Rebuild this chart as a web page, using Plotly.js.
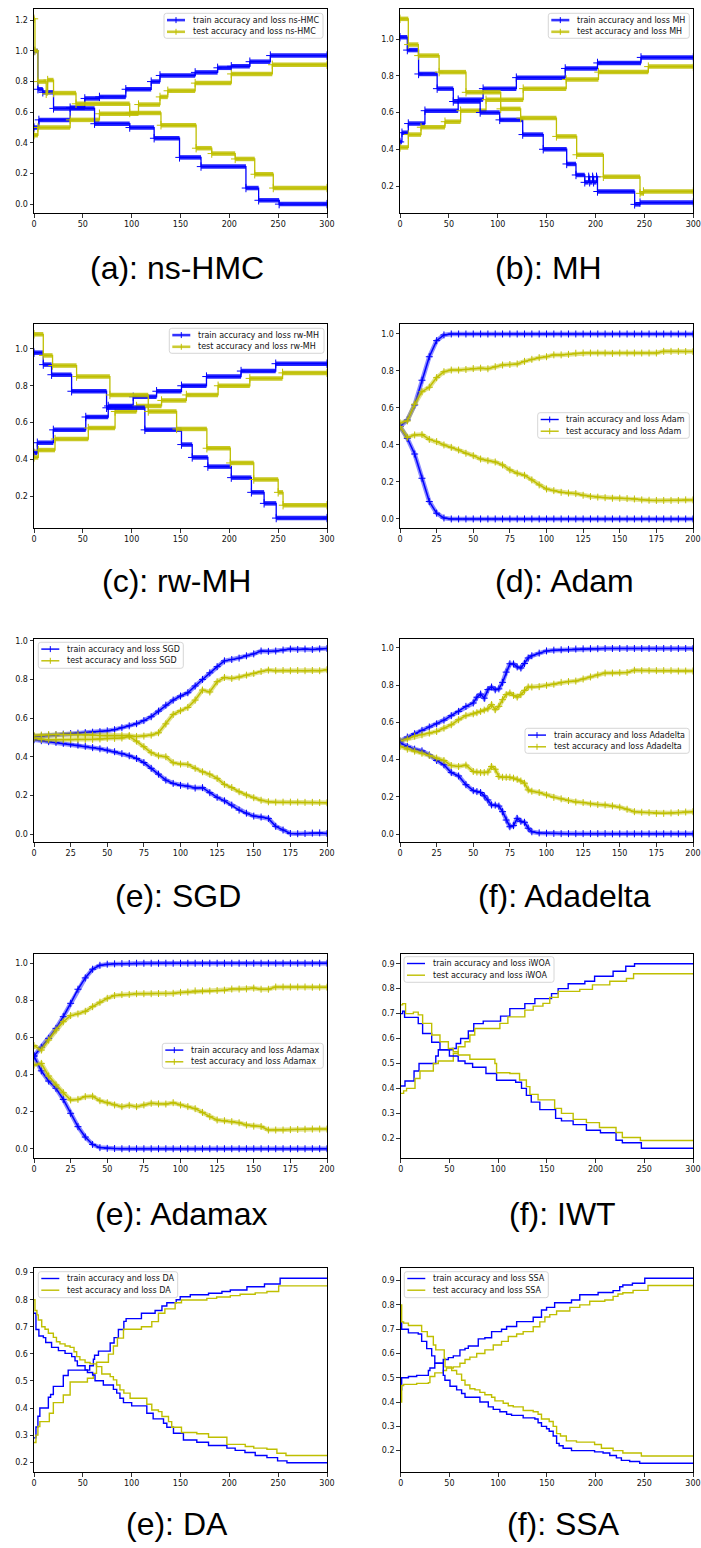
<!DOCTYPE html>
<html><head><meta charset="utf-8">
<script src="https://cdn.plot.ly/plotly-3.0.1.min.js"></script>
<style>html,body{margin:0;padding:0;background:#fff}</style>
</head><body><div id="chart" style="width:701px;height:1548px"></div>
<script>
// ---------- (a) ns-HMC (step levels: x = start epoch of each level) ----------
const hmcTrainAccX = [0, 5, 37, 52, 67, 94, 120, 129, 165, 188, 202, 221, 242, 300];
const hmcTrainAcc  = [0.50, 0.55, 0.63, 0.69, 0.70, 0.75, 0.80, 0.84, 0.86, 0.89, 0.90, 0.93, 0.97, 0.97];
const hmcTrainLossX = [0, 4, 9, 20, 62, 98, 123, 149, 171, 217, 230, 251, 300];
const hmcTrainLoss  = [1.0, 0.75, 0.73, 0.625, 0.525, 0.50, 0.43, 0.305, 0.245, 0.105, 0.025, 0.0, 0.0];
const hmcTestAccX = [0, 4, 37, 67, 107, 129, 137, 165, 202, 244, 300];
const hmcTestAcc  = [0.45, 0.50, 0.55, 0.59, 0.65, 0.70, 0.74, 0.79, 0.85, 0.91, 0.91];
const hmcTestLossX = [0, 1, 4, 12.5, 14, 20, 43, 98, 130, 166, 182, 206, 226, 245, 300];
const hmcTestLoss  = [1.21, 1.0, 0.80, 0.72, 0.81, 0.725, 0.655, 0.595, 0.515, 0.365, 0.33, 0.295, 0.195, 0.105, 0.105];

// ---------- (b) MH ----------
const mhTrainAccX = [0, 2, 8.5, 25.5, 59.5, 85, 119, 169, 202, 246.5, 300];
const mhTrainAcc  = [0.44, 0.49, 0.54, 0.61, 0.67, 0.73, 0.79, 0.84, 0.87, 0.90, 0.90];
const mhTrainLossX = [0, 7.5, 19, 38, 54.5, 82, 102, 125.5, 146.5, 170.5, 180, 189, 193, 194, 197, 198, 201, 202, 240, 245.5, 300];
const mhTrainLoss  = [1.01, 0.94, 0.81, 0.73, 0.66, 0.60, 0.56, 0.48, 0.40, 0.32, 0.26, 0.22, 0.25, 0.22, 0.25, 0.22, 0.25, 0.17, 0.10, 0.11, 0.11];
const mhTestAccX = [0, 8.5, 21.5, 46, 62, 88, 126, 170, 203, 254, 300];
const mhTestAcc  = [0.41, 0.48, 0.52, 0.55, 0.61, 0.67, 0.73, 0.78, 0.82, 0.85, 0.85];
const mhTestLossX = [0, 8.5, 18.8, 40, 67.5, 103, 123.4, 160, 180.7, 208, 245.5, 249, 300];
const mhTestLoss  = [1.11, 0.97, 0.91, 0.82, 0.71, 0.62, 0.57, 0.47, 0.37, 0.25, 0.16, 0.17, 0.17];

// ---------- (c) rw-MH ----------
const rwTrainAccX = [0, 3.4, 19.8, 53, 76, 101.6, 125.5, 151, 176.6, 212, 247.5, 300];
const rwTrainAcc  = [0.435, 0.49, 0.56, 0.63, 0.69, 0.74, 0.77, 0.80, 0.85, 0.88, 0.92, 0.92];
const rwTrainLossX = [0, 9.5, 18, 38.5, 74.3, 113.5, 151, 162, 178, 202, 222.6, 235.6, 248, 300];
const rwTrainLoss  = [0.98, 0.915, 0.86, 0.77, 0.68, 0.56, 0.48, 0.41, 0.36, 0.30, 0.22, 0.16, 0.08, 0.08];
const rwTestAccX = [0, 4.4, 21.5, 55.6, 83, 105, 130.6, 156, 188.5, 221, 254.5, 300];
const rwTestAcc  = [0.41, 0.45, 0.51, 0.57, 0.66, 0.69, 0.72, 0.75, 0.80, 0.84, 0.87, 0.87];
const rwTestLossX = [0, 9.5, 19, 43.6, 77.7, 117, 146, 177, 201, 225, 250, 255, 300];
const rwTestLoss  = [1.08, 0.965, 0.91, 0.85, 0.75, 0.66, 0.565, 0.46, 0.38, 0.29, 0.22, 0.15, 0.15];

// ---------- (d) Adam (sampled epochs) ----------
const adamEpochs = [0,5,10,15,20,25,30,35,40,45,50,55,60,65,70,75,80,85,90,95,100,105,110,115,120,125,130,135,140,145,150,155,160,165,170,175,180,185,190,195,200];
const adamTrainAcc = [0.50,0.535,0.616,0.75,0.877,0.964,0.995,1.0,1.0,1.0, 1.0,1.0,1.0,1.0,1.0,1.0,1.0,1.0,1.0,1.0, 1.0,1.0,1.0,1.0,1.0,1.0,1.0,1.0,1.0,1.0, 1.0,1.0,1.0,1.0,1.0,1.0,1.0,1.0,1.0,1.0, 1.0];
const adamTrainLoss = [0.50,0.436,0.351,0.22,0.094,0.031,0.005,0.0,0.0,0.0, 0,0,0,0,0,0,0,0,0,0, 0,0,0,0,0,0,0,0,0,0, 0,0,0,0,0,0,0,0,0,0, 0];
const adamTestAcc = [0.52,0.53,0.62,0.688,0.712,0.764,0.796,0.805,0.805,0.808, 0.813,0.815,0.812,0.823,0.832,0.835,0.838,0.852,0.863,0.872, 0.877,0.887,0.887,0.89,0.896,0.897,0.897,0.897,0.897,0.895, 0.897,0.897,0.897,0.897,0.897,0.897,0.906,0.906,0.906,0.905, 0.905];
const adamTestLoss = [0.50,0.441,0.454,0.456,0.43,0.418,0.40,0.387,0.373,0.355, 0.342,0.324,0.315,0.308,0.292,0.265,0.247,0.236,0.211,0.184, 0.162,0.153,0.144,0.14,0.137,0.128,0.121,0.118,0.115,0.112, 0.112,0.11,0.108,0.103,0.101,0.10,0.10,0.10,0.10,0.103, 0.103];

// ---------- (e) SGD ----------
const sgdEpochs = [0,5,10,15,20,25,30,35,40,45,50,55,60,65,70,75,80,85,90,95,100,105,110,115,120,125,130,135,140,145,150,155,160,165,170,175,180,185,190,195,200];
const sgdTrainAcc = [0.505,0.507,0.51,0.513,0.517,0.52,0.522,0.525,0.527,0.53, 0.534,0.54,0.55,0.56,0.571,0.587,0.607,0.636,0.667,0.693, 0.714,0.731,0.766,0.80,0.834,0.866,0.896,0.903,0.91,0.922, 0.932,0.947,0.945,0.947,0.952,0.957,0.955,0.957,0.955,0.958, 0.96];
const sgdTrainLoss = [0.488,0.483,0.478,0.474,0.469,0.465,0.46,0.454,0.447,0.441, 0.434,0.426,0.416,0.405,0.391,0.37,0.34,0.31,0.279,0.262, 0.252,0.248,0.238,0.24,0.214,0.19,0.172,0.15,0.124,0.108, 0.093,0.088,0.081,0.04,0.021,0.003,0.002,0.003,0.005,0.006, 0.003];
const sgdTestAcc = [0.51,0.512,0.515,0.515,0.515,0.515,0.515,0.513,0.512,0.51, 0.51,0.51,0.51,0.51,0.505,0.507,0.512,0.524,0.57,0.619, 0.638,0.655,0.693,0.745,0.735,0.788,0.81,0.805,0.812,0.822, 0.831,0.841,0.848,0.845,0.846,0.845,0.846,0.845,0.846,0.845, 0.85];
const sgdTestLoss = [0.495,0.49,0.488,0.488,0.488,0.488,0.49,0.49,0.49,0.492, 0.495,0.495,0.497,0.505,0.481,0.452,0.421,0.405,0.40,0.369, 0.362,0.36,0.34,0.322,0.31,0.288,0.257,0.241,0.219,0.202, 0.188,0.175,0.167,0.165,0.165,0.165,0.165,0.164,0.164,0.163, 0.162];

// ---------- (f) Adadelta ----------
const adadeltaEpochs = [0,5,10,15,20,25,30,35,40,45,50, 52.5,55,57.5,60,62.5,65,67.5,70,72.5,75,77.5,80,82.5,85,87.5,90, 95,100,105,110,115,120,125,130,135,140,145,150,155,160,165,170,175,180,185,190,195,200];
const adadeltaTrainAcc = [0.50,0.521,0.539,0.557,0.575,0.592,0.612,0.636,0.659,0.686,0.704, 0.735,0.752,0.73,0.776,0.79,0.775,0.78,0.815,0.87,0.915,0.914,0.898,0.892,0.916,0.946,0.958, 0.972,0.984,0.988,0.99,0.992,0.994,0.995,0.996,0.996,0.997,0.997,0.997,0.997,0.997,0.997,0.997,0.997,0.997,0.997,0.997,0.997,0.997];
const adadeltaTrainLoss = [0.488,0.47,0.456,0.447,0.425,0.395,0.372,0.33,0.312,0.265,0.233, 0.228,0.223,0.205,0.183,0.156,0.155,0.15,0.12,0.075,0.039,0.045,0.084,0.068,0.063,0.031,0.012, 0.006,0.004,0.003,0.002,0.002,0.002,0.002,0.002,0.002,0.002,0.001,0.001,0.001,0.001,0.001,0.001,0.001,0.001,0.001,0.001,0.001,0.001];
const adadeltaTestAcc = [0.50,0.51,0.526,0.533,0.542,0.551,0.569,0.587,0.614,0.636,0.646, 0.652,0.659,0.666,0.673,0.695,0.668,0.686,0.722,0.749,0.758,0.745,0.736,0.749,0.772,0.79,0.79, 0.792,0.799,0.805,0.815,0.819,0.822,0.833,0.844,0.855,0.865,0.865,0.867,0.868,0.88,0.878,0.878,0.878,0.878,0.878,0.876,0.876,0.876];
const adadeltaTestLoss = [0.47,0.456,0.445,0.434,0.422,0.408,0.395,0.368,0.363,0.37,0.336, 0.333,0.33,0.33,0.333,0.363,0.348,0.309,0.305,0.305,0.305,0.30,0.294,0.285,0.273,0.237,0.23, 0.223,0.21,0.197,0.189,0.18,0.172,0.169,0.162,0.158,0.156,0.151,0.144,0.133,0.12,0.117,0.115,0.111,0.111,0.113,0.115,0.118,0.12];

// ---------- (e) Adamax ----------
const adamaxEpochs = [0,5,10,15,20,25,30,35,40,45,50,55,60,65,70,75,80,85,90,95,100,105,110,115,120,125,130,135,140,145,150,155,160,165,170,175,180,185,190,195,200];
const adamaxTrainAcc = [0.50,0.547,0.595,0.649,0.712,0.784,0.86,0.921,0.968,0.989, 0.995,0.997,0.998,0.999,1.0,1.0,1.0,1.0,1.0,1.0, 1.0,1.0,1.0,1.0,1.0,1.0,1.0,1.0,1.0,1.0, 1.0,1.0,1.0,1.0,1.0,1.0,1.0,1.0,1.0,1.0, 1.0];
const adamaxTrainLoss = [0.50,0.42,0.365,0.326,0.266,0.191,0.119,0.063,0.023,0.006, 0.002,0.001,0,0,0,0,0,0,0,0, 0,0,0,0,0,0,0,0,0,0, 0,0,0,0,0,0,0,0,0,0, 0];
const adamaxTestAcc = [0.556,0.532,0.586,0.64,0.685,0.718,0.727,0.741,0.766,0.79, 0.811,0.826,0.831,0.832,0.836,0.836,0.836,0.837,0.837,0.838, 0.843,0.845,0.851,0.851,0.851,0.853,0.855,0.861,0.861,0.862, 0.866,0.86,0.86,0.872,0.872,0.872,0.872,0.872,0.871,0.871, 0.871];
const adamaxTestLoss = [0.451,0.46,0.392,0.344,0.302,0.263,0.266,0.281,0.283,0.259, 0.248,0.236,0.227,0.234,0.227,0.236,0.245,0.242,0.241,0.248, 0.236,0.227,0.216,0.196,0.173,0.155,0.151,0.146,0.14,0.128, 0.122,0.12,0.101,0.101,0.101,0.103,0.104,0.105,0.106,0.106, 0.106];

// ---------- (f) IWT (iWOA) ----------
const iwtTrainAccX = [0, 4.4, 13.7, 18.8, 36, 38.6, 53, 57, 61.5, 69.4, 75, 84.7, 102.5, 112, 127.4, 137.7, 154.8, 161.6, 171.9, 189, 199, 218, 231, 240, 300];
const iwtTrainAcc  = [0.41, 0.43, 0.47, 0.50, 0.53, 0.555, 0.56, 0.58, 0.60, 0.63, 0.66, 0.67, 0.69, 0.72, 0.74, 0.76, 0.78, 0.80, 0.82, 0.83, 0.85, 0.87, 0.89, 0.90, 0.90];
const iwtTrainLossX = [0, 2, 4, 18, 22.5, 31.8, 40.3, 50, 59, 66, 73.8, 87.5, 98.4, 118, 124, 129, 134, 142.8, 159, 165, 177, 190.6, 205, 221, 227.5, 247, 300];
const iwtTrainLoss  = [0.70, 0.71, 0.685, 0.66, 0.62, 0.585, 0.555, 0.53, 0.51, 0.50, 0.485, 0.46, 0.433, 0.425, 0.40, 0.372, 0.345, 0.315, 0.28, 0.27, 0.255, 0.232, 0.222, 0.192, 0.182, 0.16, 0.16];
const iwtTestAccX = [0, 3, 6, 14.7, 19.8, 33.5, 38.6, 54, 59, 66, 71, 76, 101.8, 110, 127.4, 136, 146, 153, 161.6, 183.8, 196.8, 214.6, 231.7, 239, 300];
const iwtTestAcc  = [0.38, 0.39, 0.40, 0.44, 0.47, 0.50, 0.51, 0.54, 0.567, 0.587, 0.614, 0.64, 0.661, 0.687, 0.714, 0.73, 0.741, 0.765, 0.789, 0.797, 0.815, 0.83, 0.841, 0.86, 0.86];
const iwtTestLossX = [0, 2, 5, 13, 18, 22.5, 31.8, 40.3, 48.9, 54, 59, 71, 96.7, 98.4, 112, 122, 129, 132.6, 141, 158, 165, 177, 190.6, 204, 221, 227.5, 246, 300];
const iwtTestLoss  = [0.735, 0.74, 0.70, 0.706, 0.695, 0.661, 0.614, 0.587, 0.56, 0.547, 0.534, 0.517, 0.50, 0.463, 0.46, 0.434, 0.407, 0.376, 0.354, 0.32, 0.30, 0.276, 0.263, 0.243, 0.223, 0.203, 0.191, 0.191];

// ---------- (e) DA ----------
const daTrainAccX = [0, 2, 4, 6, 14.7, 17, 19.8, 30, 35, 57, 60.8, 62, 66, 78, 82, 86.4, 92, 94.3, 110, 124, 131, 136, 145.6, 149.7, 160, 178.7, 192.4, 201, 218, 236, 252, 300];
const daTrainAcc  = [0.29, 0.33, 0.37, 0.40, 0.44, 0.45, 0.48, 0.52, 0.54, 0.556, 0.58, 0.595, 0.61, 0.64, 0.66, 0.69, 0.72, 0.73, 0.75, 0.76, 0.777, 0.789, 0.80, 0.811, 0.818, 0.824, 0.83, 0.836, 0.848, 0.858, 0.879, 0.879];
const daTrainLossX = [0, 2, 5, 9.6, 12, 18, 25, 31.8, 38.6, 42, 44.4, 52.3, 54.7, 60, 62.5, 71, 81.3, 84.7, 88, 91.6, 100, 115.5, 122, 132.6, 136, 142.8, 153, 166.7, 178.7, 197.5, 206, 216, 226.5, 238.5, 249.4, 259, 300];
const daTrainLoss  = [0.75, 0.69, 0.666, 0.66, 0.642, 0.624, 0.612, 0.602, 0.59, 0.574, 0.556, 0.541, 0.531, 0.522, 0.501, 0.485, 0.469, 0.455, 0.436, 0.42, 0.408, 0.381, 0.36, 0.344, 0.329, 0.307, 0.282, 0.274, 0.262, 0.252, 0.244, 0.236, 0.225, 0.217, 0.205, 0.198, 0.198];
const daTestAccX = [0, 2, 4, 6, 15.7, 19.8, 30, 37, 54.7, 60.8, 64, 76.2, 81.3, 85.4, 91.6, 110, 120.6, 127.4, 134, 144.5, 151, 177, 187, 201, 211, 226.5, 238.5, 250.5, 300];
const daTestAcc  = [0.273, 0.30, 0.332, 0.35, 0.381, 0.42, 0.448, 0.496, 0.51, 0.528, 0.569, 0.599, 0.629, 0.658, 0.691, 0.70, 0.719, 0.75, 0.766, 0.789, 0.799, 0.805, 0.81, 0.815, 0.82, 0.825, 0.83, 0.851, 0.851];
const daTestLossX = [0, 1, 3, 4.4, 7.9, 11.3, 14.7, 19.8, 23, 26.6, 31.8, 37, 41, 43.7, 47, 52.3, 57.4, 64, 69.4, 78, 81.3, 84.7, 88, 92, 98.4, 115.5, 120.6, 127.4, 131, 137.7, 141, 151, 166.7, 178.7, 197.5, 216.3, 225, 238.5, 248.7, 258, 300];
const daTestLoss  = [0.80, 0.76, 0.744, 0.725, 0.70, 0.691, 0.676, 0.661, 0.645, 0.637, 0.629, 0.624, 0.608, 0.59, 0.578, 0.568, 0.563, 0.553, 0.526, 0.516, 0.504, 0.485, 0.467, 0.455, 0.436, 0.414, 0.393, 0.387, 0.369, 0.35, 0.329, 0.31, 0.305, 0.292, 0.266, 0.258, 0.252, 0.248, 0.233, 0.225, 0.225];

// ---------- (f) SSA ----------
const ssaTrainAccX = [0, 1, 7.9, 16.4, 28.4, 30, 35, 43.7, 48.9, 54, 60.8, 66, 69.4, 79.6, 86.4, 93.3, 103.5, 108.7, 119, 136, 144.5, 149.7, 158, 175.3, 183.8, 202.6, 218, 224.8, 228, 237.8, 250.5, 300];
const ssaTrainAcc  = [0.45, 0.50, 0.505, 0.51, 0.53, 0.54, 0.56, 0.575, 0.583, 0.59, 0.615, 0.621, 0.631, 0.66, 0.665, 0.69, 0.70, 0.711, 0.731, 0.749, 0.779, 0.79, 0.809, 0.82, 0.842, 0.851, 0.859, 0.875, 0.882, 0.889, 0.91, 0.91];
const ssaTrainLossX = [0, 1, 7.9, 18, 21.5, 26.7, 31.8, 35, 43.7, 45.4, 50.6, 57.4, 62.5, 66, 81.3, 89.9, 95, 101.8, 108.7, 113.8, 125.7, 137.7, 141, 144.5, 149.7, 152.4, 156.5, 160, 162.6, 166.7, 175.3, 199, 207.7, 214.6, 221.4, 226.5, 235, 245.3, 300];
const ssaTrainLoss  = [0.73, 0.70, 0.685, 0.68, 0.65, 0.62, 0.59, 0.56, 0.51, 0.49, 0.465, 0.45, 0.435, 0.42, 0.40, 0.38, 0.37, 0.36, 0.35, 0.345, 0.335, 0.33, 0.315, 0.30, 0.29, 0.28, 0.26, 0.23, 0.22, 0.21, 0.20, 0.195, 0.19, 0.18, 0.17, 0.16, 0.155, 0.148, 0.148];
const ssaTestAccX = [0, 1, 3, 16.4, 28.4, 30, 35, 43.7, 47, 54, 60.8, 66, 71, 78, 86.4, 95, 103.5, 110.4, 119, 125.7, 136, 142.8, 148, 153, 160, 173.6, 183.8, 194, 209.5, 218, 223, 228, 238.5, 253.8, 300];
const ssaTestAcc  = [0.40, 0.468, 0.473, 0.477, 0.48, 0.505, 0.52, 0.53, 0.54, 0.545, 0.56, 0.575, 0.585, 0.60, 0.615, 0.635, 0.65, 0.67, 0.68, 0.69, 0.71, 0.73, 0.75, 0.76, 0.775, 0.79, 0.80, 0.815, 0.82, 0.835, 0.845, 0.85, 0.86, 0.88, 0.88];
const ssaTestLossX = [0, 1, 3, 7.9, 21.5, 27.3, 33.5, 36, 44.7, 45.5, 52.3, 57.4, 62.5, 66, 71, 76.2, 81.3, 86.4, 93.3, 96.7, 105.2, 110.4, 115.5, 125.7, 136, 141, 144.5, 152.4, 156.5, 160, 164, 170, 180.4, 199, 206, 218, 228, 247, 300];
const ssaTestLoss  = [0.80, 0.73, 0.725, 0.715, 0.69, 0.67, 0.635, 0.615, 0.58, 0.545, 0.53, 0.515, 0.49, 0.47, 0.455, 0.45, 0.44, 0.43, 0.42, 0.405, 0.395, 0.385, 0.38, 0.365, 0.36, 0.35, 0.33, 0.32, 0.30, 0.27, 0.26, 0.24, 0.235, 0.225, 0.21, 0.20, 0.19, 0.178, 0.178];

// ---------- panel definitions (positions in px) ----------
const panels = [
  {label:'ns-HMC', caption:'(a): ns-HMC', kind:'mcmc', box:[34,327,9.3,213], yr:[-0.058,1.272], xmax:300, dx:50, dy:0.2,
   s:[[hmcTrainAccX,hmcTrainAcc],[hmcTestAccX,hmcTestAcc],[hmcTrainLossX,hmcTrainLoss],[hmcTestLossX,hmcTestLoss]],
   leg:[164,323,13.3,38.3], cap:[177,268]},
  {label:'MH', caption:'(b): MH', kind:'mcmc', box:[400,693.3,9.3,213], yr:[0.053,1.162], xmax:300, dx:50, dy:0.2,
   s:[[mhTrainAccX,mhTrainAcc],[mhTestAccX,mhTestAcc],[mhTrainLossX,mhTrainLoss],[mhTestLossX,mhTestLoss]],
   leg:[548.3,689.3,13.3,38.3], cap:[548,268]},
  {label:'rw-MH', caption:'(c): rw-MH', kind:'mcmc', box:[34,327,324,528], yr:[0.026,1.136], xmax:300, dx:50, dy:0.2,
   s:[[rwTrainAccX,rwTrainAcc],[rwTestAccX,rwTestAcc],[rwTrainLossX,rwTrainLoss],[rwTestLossX,rwTestLoss]],
   leg:[169.3,324,328.3,353.3], cap:[176,581]},
  {label:'Adam', caption:'(d): Adam', kind:'opt', box:[400,693,324,528], yr:[-0.049,1.054], xmax:200, dx:25, dy:0.2,
   s:[[adamEpochs,adamTrainAcc],[adamEpochs,adamTestAcc],[adamEpochs,adamTrainLoss],[adamEpochs,adamTestLoss]],
   leg:[537.7,689.3,412.7,438.3], cap:[564,581]},
  {label:'SGD', caption:'(e): SGD', kind:'opt', box:[34,327,639,842], yr:[-0.041,1.009], xmax:200, dx:25, dy:0.2,
   s:[[sgdEpochs,sgdTrainAcc],[sgdEpochs,sgdTestAcc],[sgdEpochs,sgdTrainLoss],[sgdEpochs,sgdTestLoss]],
   leg:[38.3,183.3,642.3,668.3], cap:[178,896]},
  {label:'Adadelta', caption:'(f): Adadelta', kind:'opt', box:[400,693,639,842], yr:[-0.043,1.048], xmax:200, dx:25, dy:0.2,
   s:[[adadeltaEpochs,adadeltaTrainAcc],[adadeltaEpochs,adadeltaTestAcc],[adadeltaEpochs,adadeltaTrainLoss],[adadeltaEpochs,adadeltaTestLoss]],
   leg:[525,689.3,728.3,753.3], cap:[564,896]},
  {label:'Adamax', caption:'(e): Adamax', kind:'opt', box:[34,327,954,1158], yr:[-0.05,1.05], xmax:200, dx:25, dy:0.2,
   s:[[adamaxEpochs,adamaxTrainAcc],[adamaxEpochs,adamaxTestAcc],[adamaxEpochs,adamaxTrainLoss],[adamaxEpochs,adamaxTestLoss]],
   leg:[162.3,323.3,1043.3,1068.3], cap:[181,1214]},
  {label:'iWOA', caption:'(f): IWT', kind:'swarm', box:[400.7,693,954,1158], yr:[0.121,0.939], xmax:300, dx:50, dy:0.1,
   s:[[iwtTrainAccX,iwtTrainAcc],[iwtTestAccX,iwtTestAcc],[iwtTrainLossX,iwtTrainLoss],[iwtTestLossX,iwtTestLoss]],
   leg:[404,554,956.7,982.3], cap:[562,1214]},
  {label:'DA', caption:'(e): DA', kind:'swarm', box:[34,327,1268,1472], yr:[0.164,0.917], xmax:300, dx:50, dy:0.1,
   s:[[daTrainAccX,daTrainAcc],[daTestAccX,daTestAcc],[daTrainLossX,daTrainLoss],[daTestLossX,daTestLoss]],
   leg:[38.3,177.7,1271.7,1297.7], cap:[177,1524]},
  {label:'SSA', caption:'(f): SSA', kind:'swarm', box:[400.7,693,1268,1472], yr:[0.112,0.952], xmax:300, dx:50, dy:0.1,
   s:[[ssaTrainAccX,ssaTrainAcc],[ssaTestAccX,ssaTestAcc],[ssaTrainLossX,ssaTrainLoss],[ssaTestLossX,ssaTestLoss]],
   leg:[404.3,548.3,1271.7,1297.7], cap:[563,1524]}
];

const W = 701, H = 1548;
const BLUE = '#0000ff', YEL = '#bfbf00';
const traces = [];
const shapes = [];
const annotations = [];
const px = v => v / W;
const py = v => 1 - v / H;
const tickfont = {family:'DejaVu Sans', size:8, color:'#111'};

function legendShapes(p) {
  const [L, R, T, B] = p.leg;
  const rx = 2.5 / W, ry = 2.5 / H;
  const x0 = px(L), x1 = px(R), y0 = py(B), y1 = py(T);
  shapes.push({type:'path', xref:'paper', yref:'paper', layer:'above',
    path:`M${x0+rx},${y1} L${x1-rx},${y1} Q${x1},${y1} ${x1},${y1-ry} L${x1},${y0+ry} Q${x1},${y0} ${x1-rx},${y0} L${x0+rx},${y0} Q${x0},${y0} ${x0},${y0+ry} L${x0},${y1-ry} Q${x0},${y1} ${x0+rx},${y1} Z`,
    fillcolor:'rgba(255,255,255,0.82)', line:{color:'#cccccc', width:0.8}});
  const names = ['train accuracy and loss ' + p.label, 'test accuracy and loss ' + p.label];
  const cols = [BLUE, YEL];
  [0, 1].forEach(k => {
    const cy = T + 6.8 + k * 11.7;
    const lx0 = L + 3, lx1 = L + 21, mx = (lx0 + lx1) / 2;
    if (p.kind === 'mcmc') {
      shapes.push({type:'line', xref:'paper', yref:'paper', layer:'above', x0:px(lx0), x1:px(lx1), y0:py(cy), y1:py(cy),
        line:{color:cols[k], width:2.6}, opacity:0.8});
    } else {
      shapes.push({type:'line', xref:'paper', yref:'paper', layer:'above', x0:px(lx0), x1:px(lx1), y0:py(cy), y1:py(cy),
        line:{color:cols[k], width:1.4}});
    }
    if (p.kind !== 'swarm') {
      shapes.push({type:'line', xref:'paper', yref:'paper', layer:'above', x0:px(mx), x1:px(mx), y0:py(cy - 3), y1:py(cy + 3),
        line:{color:cols[k], width:1}});
    }
    annotations.push({xref:'paper', yref:'paper', x:px(L + 26.5), y:py(cy), xanchor:'left', yanchor:'middle',
      showarrow:false, text:names[k], font:{family:'DejaVu Sans', size:8, color:'#111'}});
  });
}

const layout = {
  width: W, height: H, margin:{l:0,r:0,t:0,b:0},
  paper_bgcolor:'#ffffff', plot_bgcolor:'#ffffff', showlegend:false,
  font:{family:'DejaVu Sans', size:8, color:'#111'}
};

panels.forEach((p, i) => {
  const n = i + 1;
  const xa = n === 1 ? 'x' : 'x' + n;
  const ya = n === 1 ? 'y' : 'y' + n;
  const [l, r, t, b] = p.box;
  layout[n === 1 ? 'xaxis' : 'xaxis' + n] = {
    domain:[l / W, r / W], anchor: ya, range:[0, p.xmax], tick0:0, dtick:p.dx,
    ticks:'outside', ticklen:3.5, tickwidth:0.8, tickcolor:'#000',
    showline:true, linecolor:'#000', linewidth:1, mirror:true,
    showgrid:false, zeroline:false, tickfont: tickfont, fixedrange:true
  };
  layout[n === 1 ? 'yaxis' : 'yaxis' + n] = {
    domain:[1 - b / H, 1 - t / H], anchor: xa, range:p.yr, tick0:0, dtick:p.dy, tickformat:'.1f',
    ticks:'outside', ticklen:3.5, tickwidth:0.8, tickcolor:'#000',
    showline:true, linecolor:'#000', linewidth:1, mirror:true,
    showgrid:false, zeroline:false, tickfont: tickfont, fixedrange:true
  };
  annotations.push({
    xref:'paper', yref:'paper', x: px(p.cap[0]), y: py(p.cap[1]),
    xanchor:'center', yanchor:'middle', showarrow:false, text: p.caption,
    font:{family:'Liberation Sans, Arial, sans-serif', size:32, color:'#000'}
  });
  legendShapes(p);

  const names = ['train accuracy and loss ' + p.label, 'test accuracy and loss ' + p.label];
  p.s.forEach((sr, k) => {
    const [xs, ys] = sr;
    const color = (k % 2 === 0) ? BLUE : YEL;
    const nm = names[k % 2];
    if (p.kind === 'mcmc') {
      // thick horizontal band for each level (dense '+' markers in the original)
      const bx = [], by = [];
      for (let j = 0; j < xs.length - 1; j++) { bx.push(xs[j], xs[j + 1], null); by.push(ys[j], ys[j], null); }
      traces.push({x:bx, y:by, xaxis:xa, yaxis:ya, mode:'lines', line:{color:color, width:4.5},
        opacity:0.85, showlegend:false, hoverinfo:'skip'});
      traces.push({x:xs, y:ys, xaxis:xa, yaxis:ya, mode:'lines+markers', name:nm,
        line:{color:color, width:1.3, shape:'hv'},
        marker:{symbol:'cross-thin', size:6, color:color, line:{width:1, color:color}}});
    } else if (p.kind === 'opt') {
      traces.push({x:xs, y:ys, xaxis:xa, yaxis:ya, mode:'lines', line:{color:color, width:4.5},
        opacity:0.45, showlegend:false, hoverinfo:'skip'});
      traces.push({x:xs, y:ys, xaxis:xa, yaxis:ya, mode:'lines+markers', name:nm,
        line:{color:color, width:1.5},
        marker:{symbol:'cross-thin', size:5, color:color, line:{width:1, color:color}}});
    } else {
      traces.push({x:xs, y:ys, xaxis:xa, yaxis:ya, mode:'lines', name:nm,
        line:{color:color, width:1.4, shape:'hv'}});
    }
  });
});

layout.shapes = shapes;
layout.annotations = annotations;
Plotly.newPlot('chart', traces, layout, {staticPlot:true, displayModeBar:false});
</script>
</body></html>
